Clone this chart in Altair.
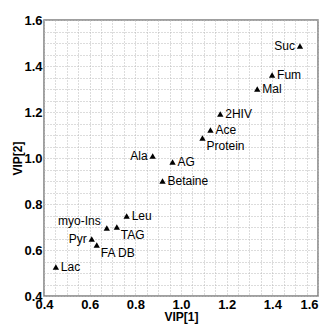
import altair as alt
import pandas as pd

names = ["Suc", "Fum", "Mal", "2HIV", "Ace", "Protein", "AG", "Ala", "Betaine",
         "Leu", "TAG", "myo-Ins", "Pyr", "FA DB", "Lac"]
vip1 = [1.521, 1.399, 1.334, 1.172, 1.129, 1.094, 0.963, 0.876, 0.919,
        0.762, 0.719, 0.675, 0.609, 0.631, 0.452]
vip2 = [1.487, 1.361, 1.300, 1.191, 1.122, 1.087, 0.983, 1.009, 0.900,
        0.748, 0.700, 0.696, 0.648, 0.622, 0.526]
place = ["left", "right", "right", "right", "right", "below", "right", "left", "right",
         "right", "below", "above", "left", "below", "right"]

df = pd.DataFrame({"name": names, "x": vip1, "y": vip2, "place": place})

grid_vals = [round(0.4 + 0.05 * i, 2) for i in range(25)]
label_expr = "abs(datum.value*5 - round(datum.value*5)) < 0.001 ? format(datum.value, '.1f') : ''"
FONT = "Liberation Sans"

W, H = 274, 276
xs = alt.Scale(domain=[0.4, 1.6], nice=False, zero=False)
ys = alt.Scale(domain=[0.4, 1.6], nice=False, zero=False)

xaxis = alt.Axis(title="VIP[1]", values=grid_vals, labelExpr=label_expr, labelPadding=2,
                 labelAlign={"condition": {"test": "datum.value > 1.59", "value": "right"}, "value": "center"},
                 titleX=W / 2, titleY=20, titleBaseline="middle", titleAlign="center")
yaxis = alt.Axis(title="VIP[2]", values=grid_vals, labelExpr=label_expr, labelPadding=2,
                 titleX=-27, titleY=H / 2, titleBaseline="middle", titleAlign="center", titleAngle=270)

base = alt.Chart(df)
pts = base.mark_point(shape="triangle-up", filled=True, color="#000", size=40, opacity=1).encode(
    x=alt.X("x:Q", scale=xs, axis=xaxis),
    y=alt.Y("y:Q", scale=ys, axis=yaxis),
)

def txt(p, **kw):
    return base.transform_filter(alt.datum.place == p).mark_text(
        font=FONT, fontSize=12, color="#000", **kw).encode(
        x=alt.X("x:Q", scale=xs, axis=xaxis), y=alt.Y("y:Q", scale=ys, axis=yaxis), text="name:N")

layers = [
    pts,
    txt("right", align="left", dx=5, dy=0, baseline="middle"),
    txt("left", align="right", dx=-5, dy=0, baseline="middle"),
    txt("below", align="left", dx=4, dy=8, baseline="middle"),
    txt("above", align="right", dx=-6, dy=-7, baseline="middle"),
]

chart = alt.layer(*layers).properties(
    width=W, height=H,
    background="white",
    autosize=alt.AutoSizeParams(type="none"),
    padding={"left": 36, "top": 12, "right": 1, "bottom": 28},
).configure_view(
    stroke="#808080", strokeWidth=1.5
).configure_axis(
    ticks=False, grid=True, gridDash=[1, 2], gridColor="#b8b8b8", gridOpacity=1, gridWidth=1,
    labelFont=FONT, labelFontSize=13, labelFontWeight="bold", labelColor="#000",
    titleFont=FONT, titleFontSize=12, titleFontWeight="bold", titleColor="#000",
    domain=False, labelFlush=False, labelOverlap=False,
)

chart.save("out.html", embed_options={"renderer": "svg", "actions": False})
